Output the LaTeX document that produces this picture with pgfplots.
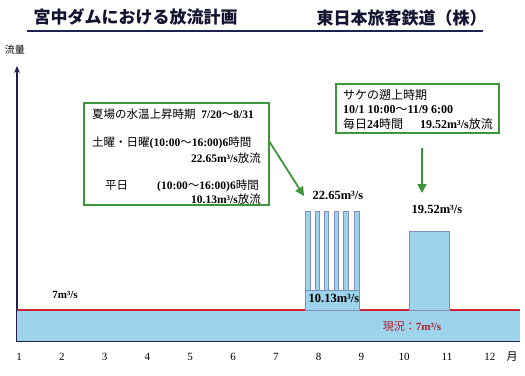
\documentclass[border=0pt]{standalone}
\usepackage{pgfplots}
\pgfplotsset{compat=1.18}
\usetikzlibrary{arrows.meta}
\usepackage{fontspec}
\setmainfont{Liberation Serif}
\newfontfamily\jp{Noto Sans CJK JP}
\newcommand{\J}[1]{{\jp #1}}
\definecolor{band}{HTML}{9DD3EB}
\definecolor{bard}{HTML}{7F8FC0}
\definecolor{navy}{HTML}{1F2250}
\definecolor{gr}{HTML}{3C963C}
\definecolor{rl}{HTML}{CC2233}
\definecolor{rt}{HTML}{B01E2E}
\begin{document}
\begin{tikzpicture}[x=1pt,y=1pt]
\path[use as bounding box] (0,0) rectangle (525,-375);
\begin{axis}[at={(17pt,-341.5pt)}, anchor=south west, scale only axis,
  width=503pt, height=275.5pt,
  xmin=0.953, xmax=12.705, ymin=2, ymax=45.7, clip=false,
  axis lines=left,
  x axis line style={draw=none,-},
  y axis line style={navy, line width=1.4pt, -{Stealth[length=7pt,width=6pt]}},
  ytick=\empty,
  xtick={1,2,3,4,5,6,7,8,9,10,11,12,12.52},
  xticklabels={1,2,3,4,5,6,7,8,9,10,11,12,{\jp 月}},
  major tick length=0pt, tick style={draw=none},
  xticklabel style={font=\fontsize{11}{12}\selectfont, anchor=center, yshift=-15pt},
]
% current flow band (7 m3/s)
\addplot[fill=band, draw=none] coordinates {(0.953,2)(12.705,2)(12.705,7)(0.953,7)} -- cycle;
\addplot[rl, line width=1.2pt] coordinates {(0.953,7)(12.705,7)};
\addplot[navy, line width=1.5pt] coordinates {(0.953,2)(12.705,2)};
% weekend stripes 22.65
\addplot[fill=band, draw=bard, line width=0.8pt] coordinates {(7.692,10.13)(7.798,10.13)(7.798,22.65)(7.692,22.65)} -- cycle;
\addplot[fill=band, draw=bard, line width=0.8pt] coordinates {(7.917,10.13)(8.023,10.13)(8.023,22.65)(7.917,22.65)} -- cycle;
\addplot[fill=band, draw=bard, line width=0.8pt] coordinates {(8.127,10.13)(8.233,10.13)(8.233,22.65)(8.127,22.65)} -- cycle;
\addplot[fill=band, draw=bard, line width=0.8pt] coordinates {(8.361,10.13)(8.467,10.13)(8.467,22.65)(8.361,22.65)} -- cycle;
\addplot[fill=band, draw=bard, line width=0.8pt] coordinates {(8.587,10.13)(8.693,10.13)(8.693,22.65)(8.587,22.65)} -- cycle;
\addplot[fill=band, draw=bard, line width=0.8pt] coordinates {(8.838,10.13)(8.944,10.13)(8.944,22.65)(8.838,22.65)} -- cycle;
% weekday 10.13
\addplot[fill=band, draw=bard, line width=0.8pt] coordinates {(7.682,7)(8.944,7)(8.944,10.13)(7.682,10.13)} -- cycle;
% salmon 19.52
\addplot[fill=band, draw=bard, line width=0.8pt] coordinates {(10.112,7)(11.047,7)(11.047,19.52)(10.112,19.52)} -- cycle;
\end{axis}
% titles
\node[anchor=west, font=\jp\bfseries\fontsize{17}{17}\selectfont, text=navy!60!black] at (30,-17) {宮中ダムにおける放流計画};
\node[anchor=west, font=\jp\bfseries\fontsize{17}{17}\selectfont, text=navy!60!black] at (313,-18) {東日本旅客鉄道（株）};
\draw[navy, line width=2pt] (27,-31) -- (483,-31);
\node[font=\jp\fontsize{10}{10}\selectfont] at (15,-50) {流量};
% box 1
\draw[gr, line width=1.2pt, fill=white] (84,-103) rectangle (269,-205);
\begin{scope}[every node/.style={font=\fontsize{11.5}{12}\selectfont, inner sep=0pt}]
\node[anchor=west] at (92,-114) {\J{夏場の水温上昇時期}\enspace\textbf{7/20}\J{～}\textbf{8/31}};
\node[anchor=west] at (92,-143) {\J{土曜・日曜}\textbf{(10:00}\J{～}\textbf{16:00)6}\J{時間}};
\node[anchor=east] at (261,-158) {\textbf{22.65m³/s}\J{放流}};
\node[anchor=west] at (105,-186) {\J{平日}};
\node[anchor=east] at (259,-186) {\textbf{(10:00}\J{～}\textbf{16:00)6}\J{時間}};
\node[anchor=east] at (261,-199) {\textbf{10.13m³/s}\J{放流}};
\end{scope}
% box 2
\draw[gr, line width=1.2pt, fill=white] (336,-84) rectangle (499,-133);
\begin{scope}[every node/.style={font=\fontsize{12}{12}\selectfont, inner sep=0pt}]
\node[anchor=west] at (343,-95) {\J{サケの遡上時期}};
\node[anchor=west] at (343,-110) {\textbf{10/1 10:00}\J{～}\textbf{11/9 6:00}};
\node[anchor=west] at (343,-124) {\J{毎日}\textbf{24}\J{時間}};
\node[anchor=east] at (493,-124) {\textbf{19.52m³/s}\J{放流}};
\end{scope}
% arrows
\draw[gr, line width=1.8pt, -{Triangle[length=9pt,width=9pt]}] (269,-141) -- (304,-196);
\draw[gr, line width=1.8pt, -{Triangle[length=9pt,width=9pt]}] (422,-148) -- (422,-193);
% value labels
\node[font=\bfseries\fontsize{12.5}{13}\selectfont] at (338,-195) {22.65m³/s};
\node[font=\bfseries\fontsize{12.5}{13}\selectfont] at (437,-209) {19.52m³/s};
\node[font=\bfseries\fontsize{12.5}{13}\selectfont] at (334,-298) {10.13m³/s};
\node[font=\bfseries\fontsize{11}{12}\selectfont] at (65,-295) {7m³/s};
\node[font=\fontsize{11}{12}\selectfont, text=rt] at (412,-326) {\J{現況：}\textbf{7m³/s}};
\end{tikzpicture}
\end{document}
